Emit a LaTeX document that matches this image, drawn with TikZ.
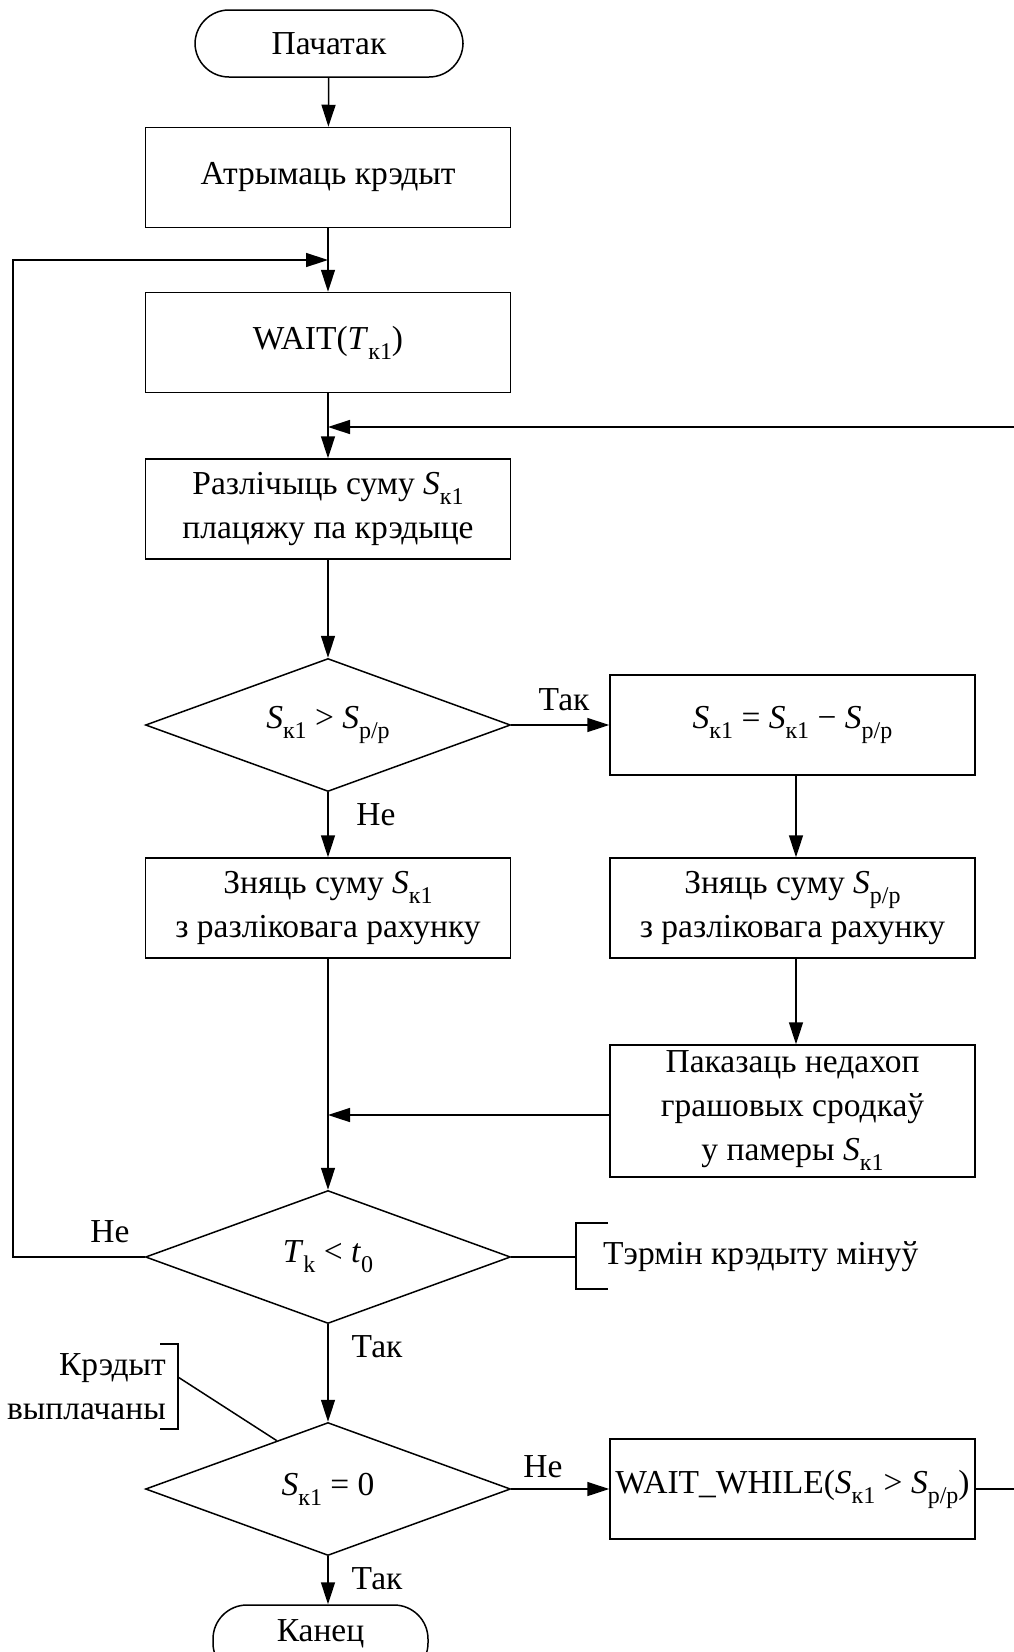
\documentclass[tikz,border=0pt]{standalone}
\usepackage{fontspec}
\setmainfont{Liberation Serif}
\usetikzlibrary{shapes.geometric,arrows.meta,calc}
% lowered upright index after a variable
\newcommand\ix[1]{\raisebox{-10pt}{\fontsize{24}{24}\selectfont #1}}
\newcommand\vS{\textit{S}}
\newcommand\vT{\textit{T}}
\begin{document}
\begin{tikzpicture}[x=1pt,y=-1pt,
  every node/.style={font=\fontsize{33.5}{44}\selectfont},
  ln/.style={line width=1.5pt},
  arr/.style={line width=1.5pt,-{Triangle[length=22pt,width=14pt]}},
  block/.style={draw,line width=1.5pt,minimum width=365pt,minimum height=100pt,align=center,inner sep=0pt},
  decision/.style={draw,line width=1.5pt,diamond,aspect=2.74,minimum width=365pt,minimum height=133pt,inner sep=0pt},
  term/.style={draw,line width=1.5pt,rounded corners=34pt,inner sep=0pt},
  lbl/.style={inner sep=0pt}]
\useasboundingbox (0,0) rectangle (1014,1652);
\clip (0,0) rectangle (1014,1652);

% main column
\node[term,minimum width=268pt,minimum height=67pt] (start) at (329,43.5) {Пачатак};
\node[block] (get) at (328,177.5) {Атрымаць крэдыт};
\node[block] (wait) at (328,342.5) {WAIT(\vT\ix{к1})};
\node[block] (calcsum) at (328,509) {Разлічыць суму \vS\ix{к1}\\плацяжу па крэдыце};
\node[decision] (d1) at (328,725) {\vS\ix{к1} > \vS\ix{р/р}};
\node[block] (payl) at (328,908) {Зняць суму \vS\ix{к1}\\з разліковага рахунку};
\node[decision] (d2) at (328,1257) {\vT\ix{k} < \textit{t}\ix{0}};
\node[decision] (d3) at (328,1489) {\vS\ix{к1} = 0};
\node[term,minimum width=215pt,minimum height=72pt,text depth=20pt] (fin) at (320.5,1641) {Канец};

% right column
\node[block] (dec) at (792.5,725) {\vS\ix{к1} = \vS\ix{к1} − \vS\ix{р/р}};
\node[block] (payr) at (792.5,908) {Зняць суму \vS\ix{р/р}\\з разліковага рахунку};
\node[block,minimum height=132pt] (lack) at (792.5,1111) {Паказаць недахоп\\грашовых сродкаў\\у памеры \vS\ix{к1}};
\node[block] (ww) at (792.5,1489) {WAIT\_WHILE(\vS\ix{к1} > \vS\ix{р/р})};

% merge points and loop rails
\coordinate (m1) at (328,260);
\coordinate (m2) at (328,427);
\coordinate (m3) at (328,1115);
\coordinate (lft) at (13,0);
\coordinate (rgt) at (1040,0);
\coordinate (rc) at (796,0);

% connectors
\draw[arr] (start) -- (get);
\draw[arr] (get) -- (wait);
\draw[arr] (wait) -- (calcsum);
\draw[arr] (calcsum) -- (d1);
\draw[arr] (d1) -- (dec);
\draw[arr] (d1) -- (payl);
\draw[arr] (dec.south -| rc) -- (payr.north -| rc);
\draw[arr] (payr.south -| rc) -- (lack.north -| rc);
\draw[arr] (payl) -- (d2);
\draw[arr] (lack.west |- m3) -- (m3);
\draw[arr] (d2) -- (d3);
\draw[arr] (d3) -- (ww);
\draw[arr] (d3.south) -- (d3.south |- fin.north);
\draw[arr] (d2.west) -- (d2.west -| lft) |- (m1);
\draw[arr] (ww.east) -- (ww.east -| rgt) |- (m2);

% branch labels
\node[lbl] (y1) at (564,700) {Так};
\node[lbl] (n1) at (376,815) {Не};
\node[lbl] (n2) at (110,1232) {Не};
\node[lbl] (y2) at (377,1347) {Так};
\node[lbl] (n3) at (543,1467) {Не};
\node[lbl] (y3) at (377,1579) {Так};

% comment: term expired
\coordinate (c1) at (576,1257);
\draw[ln] (d2.east) -- (c1);
\draw[ln] (608,1223) -- (576,1223) -- (576,1289) -- (608,1289);
\node[lbl,anchor=west] (note1) at (603,1257) {Тэрмін крэдыту мінуў};

% comment: credit repaid
\coordinate (c2) at (178,1377);
\coordinate (d3p) at ($(d3.west)!0.72!(d3.north)$);
\draw[ln] (c2) -- (d3p);
\draw[ln] (160,1344) -- (178,1344) -- (178,1429) -- (160,1429);
\node[lbl,anchor=east,align=right] (note2) at (166,1387) {Крэдыт\\выплачаны};
\end{tikzpicture}
\end{document}
